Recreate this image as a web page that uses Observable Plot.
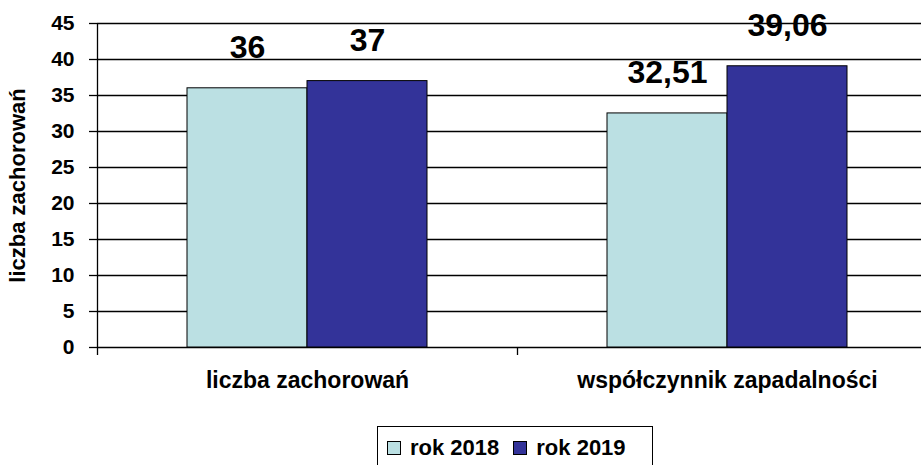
<!DOCTYPE html>
<html>
<head>
<meta charset="utf-8">
<script src="https://cdn.jsdelivr.net/npm/d3@7"></script>
<script src="https://cdn.jsdelivr.net/npm/@observablehq/plot@0.6"></script>
<style>
  body { margin: 0; background: #fff; font-family: "Liberation Sans", Arial, sans-serif; }
  #chart svg { display: block; }
  .legend { position: absolute; left: 377px; top: 426px; width: 276px; height: 44px; box-sizing: border-box;
    border: 1px solid #000; display: flex; align-items: center; justify-content: flex-start; gap: 14px;
    padding-left: 9px; font-weight: bold; font-size: 22px; color: #000; }
  .legend .item { display: flex; align-items: center; gap: 9px; }
  .legend .sw { width: 12px; height: 12px; border: 1px solid #000; }
</style>
</head>
<body>
<div id="chart"></div>
<script>
const categories = ["liczba zachorowań", "współczynnik zapadalności"];
const years = ["rok 2018", "rok 2019"];
const values2018 = [36, 32.51];
const values2019 = [37, 39.06];
const labels2018 = ["36", "32,51"];
const labels2019 = ["37", "39,06"];
const yTicks = [0, 5, 10, 15, 20, 25, 30, 35, 40, 45];
const yTitle = "liczba zachorowań";
const colors = ["#BBE0E3", "#333399"];

const rows = categories.map((c, i) => ({
  category: c, v2018: values2018[i], v2019: values2019[i], l2018: labels2018[i], l2019: labels2019[i]
}));

const font = "Liberation Sans, Arial, sans-serif";
const plot = Plot.plot({
  width: 921,
  height: 420,
  marginLeft: 97,
  marginRight: 0,
  marginTop: 23,
  marginBottom: 73,
  style: { fontFamily: font, fontWeight: "bold", color: "#000", background: "#fff" },
  x: { domain: categories, range: [97, 937], padding: 0 },
  y: { domain: [0, 45] },
  marks: [
    Plot.ruleY(yTicks, { stroke: "#000", strokeWidth: 1.3 }),
    Plot.barY(rows, { x: "category", y: "v2018", fill: colors[0], stroke: "#000", strokeWidth: 1, insetLeft: 150, insetRight: 150, dx: -60 }),
    Plot.barY(rows, { x: "category", y: "v2019", fill: colors[1], stroke: "#000", strokeWidth: 1, insetLeft: 150, insetRight: 150, dx: 60 }),
    Plot.ruleX([categories[0]], { x: d => d, dx: -210, y1: -8 / 7.2, y2: 45, stroke: "#000", strokeWidth: 1.3 }),
    Plot.ruleX([categories[1]], { x: d => d, dx: -210, y1: -8 / 7.2, y2: 0, stroke: "#000", strokeWidth: 1.3 }),
    Plot.axisY({ ticks: yTicks, tickSize: 8, tickPadding: 15, fontSize: 21, tickFormat: d => String(d), label: null, stroke: "#000", strokeWidth: 1.3, strokeOpacity: 1 }),
    Plot.axisX({ tickSize: 0, tickPadding: 24, fontSize: 23, label: null }),
    Plot.text(rows, { x: "category", y: "v2018", text: "l2018", dx: -60, dy: -30, lineAnchor: "bottom", fontSize: 32, fontWeight: "bold", fill: "#000" }),
    Plot.text(rows, { x: "category", y: "v2019", text: "l2019", dx: 60, dy: -30, lineAnchor: "bottom", fontSize: 32, fontWeight: "bold", fill: "#000" }),
    Plot.text([yTitle], { frameAnchor: "left", textAnchor: "middle", lineAnchor: "middle", rotate: -90, dx: -80, fontSize: 22, fontWeight: "bold", fill: "#000" })
  ]
});
document.getElementById("chart").appendChild(plot);

const legend = document.createElement("div");
legend.className = "legend";
years.forEach((y, i) => {
  const item = document.createElement("div");
  item.className = "item";
  const sw = document.createElement("div");
  sw.className = "sw";
  sw.style.background = colors[i];
  const t = document.createElement("span");
  t.textContent = y;
  item.appendChild(sw);
  item.appendChild(t);
  legend.appendChild(item);
});
document.body.appendChild(legend);
</script>
</body>
</html>
